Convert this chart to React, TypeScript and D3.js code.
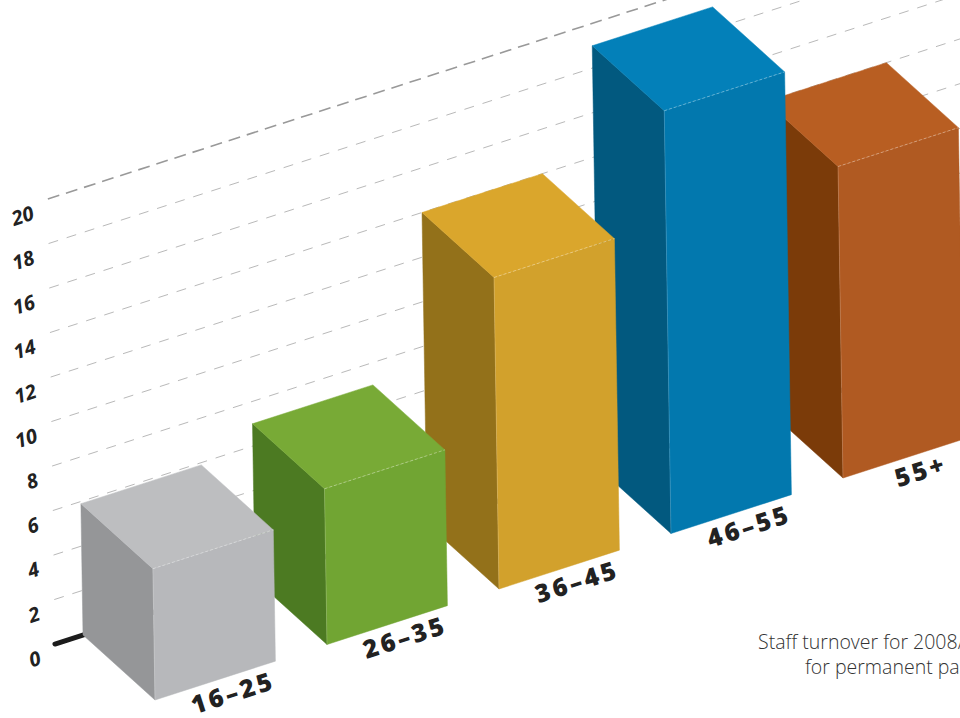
import React from "react";
import * as d3 from "d3";

const categories = ["16–25", "26–35", "36–45", "46–55", "55+"];
const values = [5.9, 7, 14, 19, 14];
const topColors = ["#bdbec0", "#78aa36", "#daa62c", "#0380b9", "#b85e22"];
const leftColors = ["#959698", "#4c7a22", "#93711a", "#02597f", "#7b3b09"];
const frontColors = ["#b7b8bb", "#71a533", "#d2a12c", "#0278ae", "#b05a22"];
const ticks = [0, 2, 4, 6, 8, 10, 12, 14, 16, 18, 20];
const captionLines = ["Staff turnover for 2008/09 by age group", "for permanent parliamentary staff"];

const W = 960;
const H = 718;

// oblique projection parameters
const origin = { x: 83, y: 635 };
const catStep = { x: 172, y: -55.5 };
const depthVec = { x: 72, y: 65 };
const lean = 0.016;

const tScale = d3.scaleBand<string>().domain(categories).range([0, 4.7]).paddingInner(0.3).paddingOuter(0);
const hScale = d3.scaleLinear().domain([0, 20]).range([0, 445]);

function P(t: number, v: number, d: number): [number, number] {
  const h = hScale(v);
  return [
    origin.x + t * catStep.x - h * lean + d * depthVec.x,
    origin.y + t * catStep.y - h + d * depthVec.y,
  ];
}

const line = d3.line();
const angle = (Math.atan2(catStep.y, catStep.x) * 180) / Math.PI;

export default function App() {
  const bw = tScale.bandwidth();
  const order = categories.map((_, i) => i).reverse();
  const gridStart = -0.163;
  const gridEnd = 6;
  const alen = Math.hypot(catStep.x, catStep.y);
  const along = [catStep.x / alen, catStep.y / alen];
  const normal = [-along[1], along[0]];

  return (
    <svg width={W} height={H} style={{ position: "fixed", left: 0, top: 0, background: "#fff" }}>
      <rect width={W} height={H} fill="#fff" />
      {/* gridlines on back plane */}
      {ticks.map((v) => {
        const a = P(gridStart, v, 0);
        const b = P(gridEnd, v, 0);
        if (v === 0) {
          return (
            <path key={v} d={line([a, b]) || ""} stroke="#1c1c1c" strokeWidth={5} strokeLinecap="round" fill="none" />
          );
        }
        const major = v === 20;
        return (
          <path
            key={v}
            d={line([a, b]) || ""}
            stroke={major ? "#999" : "#b9b9b9"}
            strokeWidth={major ? 1.6 : 1}
            strokeDasharray={major ? "12,7" : "10,9"}
            fill="none"
          />
        );
      })}
      {/* tick labels */}
      {ticks.map((v) => {
        const a = P(gridStart, v, 0);
        const x = a[0] - 15;
        const y = a[1] + 13;
        return (
          <text
            key={"t" + v}
            x={x}
            y={y}
            transform={`rotate(${angle},${x},${y})`}
            textAnchor="end"
            dominantBaseline="central"
            fontFamily="Open Sans, DejaVu Sans, sans-serif"
            fontStyle="italic"
            fontWeight={700}
            fontSize={20}
            fill="#222"
          >
            {v}
          </text>
        );
      })}
      {/* bars, back to front */}
      {order.map((i) => {
        const c = categories[i];
        const v = values[i];
        const t0 = tScale(c) as number;
        const t1 = t0 + bw;
        const top = [P(t0, v, 0), P(t1, v, 0), P(t1, v, 1), P(t0, v, 1)];
        const left = [P(t0, 0, 0), P(t0, v, 0), P(t0, v, 1), P(t0, 0, 1)];
        const front = [P(t0, 0, 1), P(t0, v, 1), P(t1, v, 1), P(t1, 0, 1)];
        const fb0 = P(t0, 0, 1);
        const fb1 = P(t1, 0, 1);
        const mid = [(fb0[0] + fb1[0]) / 2, (fb0[1] + fb1[1]) / 2];
        const lx = mid[0] + along[0] * 13 + normal[0] * 16;
        const ly = mid[1] + along[1] * 13 + normal[1] * 16;
        return (
          <g key={c}>
            <path d={(line(left as any) || "") + "Z"} fill={leftColors[i]} stroke={leftColors[i]} strokeWidth={0.5} />
            <path d={(line(front as any) || "") + "Z"} fill={frontColors[i]} stroke={frontColors[i]} strokeWidth={0.5} />
            <path d={(line(top as any) || "") + "Z"} fill={topColors[i]} stroke={topColors[i]} strokeWidth={0.5} />
            <path
              d={line([P(t0, v, 1), P(t1, v, 1)]) || ""}
              stroke="#ffffff"
              strokeOpacity={0.45}
              strokeWidth={0.8}
              strokeDasharray="3,2"
              fill="none"
            />
            <path
              d={line([P(t0, 0, 1), P(t0, v, 1)]) || ""}
              stroke="#ffffff"
              strokeOpacity={0.2}
              strokeWidth={0.8}
              fill="none"
            />
            <text
              x={lx}
              y={ly}
              transform={`rotate(${angle},${lx},${ly})`}
              textAnchor="middle"
              dominantBaseline="central"
              fontFamily="Open Sans, DejaVu Sans, sans-serif"
              fontWeight={800}
              fontSize={25}
              letterSpacing={3}
              fill="#222"
            >
              {c}
            </text>
          </g>
        );
      })}
      {/* caption */}
      <text fontFamily="Open Sans, sans-serif" fontWeight={300} fontSize={19.5} fill="#333">
        <tspan x={758} y={649}>{captionLines[0]}</tspan>
        <tspan x={805} y={674}>{captionLines[1]}</tspan>
      </text>
    </svg>
  );
}
